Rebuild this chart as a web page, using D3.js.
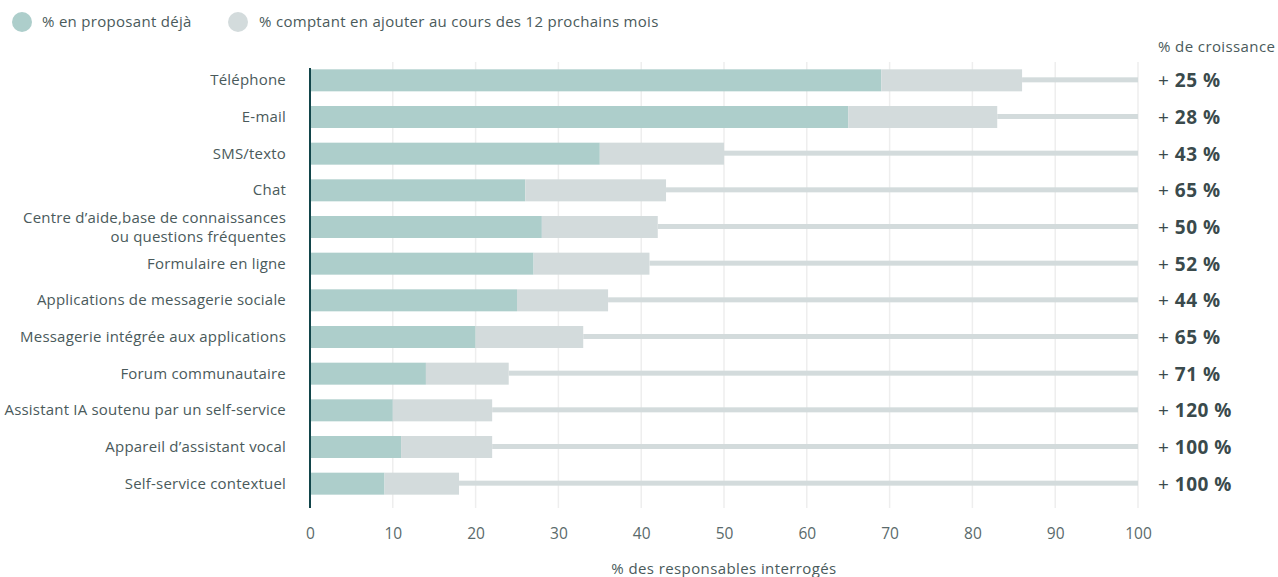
<!DOCTYPE html>
<html lang="fr">
<head>
<meta charset="utf-8">
<script src="https://cdn.jsdelivr.net/npm/d3@7"></script>
<style>
  html, body { margin: 0; padding: 0; background: #fff; }
  svg { display: block; font-family: "Open Sans", Lato, sans-serif; }
</style>
</head>
<body>
<svg id="chart" width="1278" height="577"></svg>
<script>
// Canaux de service proposés et prévus
const categories = [
  "Téléphone",
  "E-mail",
  "SMS/texto",
  "Chat",
  "Centre d’aide,base de connaissances|ou questions fréquentes",
  "Formulaire en ligne",
  "Applications de messagerie sociale",
  "Messagerie intégrée aux applications",
  "Forum communautaire",
  "Assistant IA soutenu par un self-service",
  "Appareil d’assistant vocal",
  "Self-service contextuel"
];
// % en proposant déjà
const proposant = [69, 65, 35, 26, 28, 27, 25, 20, 14, 10, 11, 9];
// % comptant en ajouter au cours des 12 prochains mois
const ajout = [17, 18, 15, 17, 14, 14, 11, 13, 10, 12, 11, 9];
// % de croissance
const croissance = ["25", "28", "43", "65", "50", "52", "44", "65", "71", "120", "100", "100"];
const xTicks = [0, 10, 20, 30, 40, 50, 60, 70, 80, 90, 100];

const colTeal = "#adcecb", colGrey = "#d3dbdc";
const txt = "#4a5a5b";
const svg = d3.select("#chart");
const margin = { left: 310, right: 140 };
const W = 1278;

const x = d3.scaleLinear().domain([0, 100]).range([margin.left, W - margin.right]);
const y = d3.scaleBand().domain(d3.range(categories.length))
  .range([62, 502]).paddingInner(0.4).paddingOuter(0.2);

// grid
svg.append("g").selectAll("line").data(xTicks.slice(1)).join("line")
  .attr("x1", d => x(d)).attr("x2", d => x(d))
  .attr("y1", 62).attr("y2", 508)
  .attr("stroke", "#eeeeee").attr("stroke-width", 1.5);

// tracks
svg.append("g").selectAll("rect").data(categories).join("rect")
  .attr("x", (d, i) => x(proposant[i] + ajout[i]))
  .attr("width", (d, i) => x(100) - x(proposant[i] + ajout[i]))
  .attr("y", (d, i) => y(i) + y.bandwidth() / 2 - 3)
  .attr("height", 5)
  .attr("fill", colGrey);

// bars
const stack = d3.stack().keys(["p", "a"])(categories.map((c, i) => ({ p: proposant[i], a: ajout[i], i })));
const colors = [colTeal, colGrey];
svg.append("g").selectAll("g").data(stack).join("g")
  .attr("fill", (d, k) => colors[k])
  .selectAll("rect").data(d => d).join("rect")
  .attr("x", d => x(d[0]))
  .attr("width", d => x(d[1]) - x(d[0]))
  .attr("y", d => y(d.data.i))
  .attr("height", y.bandwidth());

// baseline
svg.append("line")
  .attr("x1", x(0)).attr("x2", x(0))
  .attr("y1", 68).attr("y2", 508)
  .attr("stroke", "#12454a").attr("stroke-width", 2);

// category labels
const lab = svg.append("g").attr("fill", txt).attr("font-size", 15)
  .attr("letter-spacing", 0.2).attr("text-anchor", "end");
categories.forEach((c, i) => {
  const lines = c.split("|");
  const cy = y(i) + y.bandwidth() / 2;
  const t = lab.append("text").attr("x", 286);
  lines.forEach((l, k) => {
    t.append("tspan").attr("x", 286)
      .attr("y", cy + 5 + (k - (lines.length - 1) / 2) * 19)
      .text(l);
  });
});

// growth labels
svg.append("text").attr("x", 1158).attr("y", 52).attr("font-size", 15)
  .attr("letter-spacing", 0.4).attr("fill", txt).text("% de croissance");
const gl = svg.append("g").attr("fill", "#3a4a4c").attr("font-size", 19).attr("letter-spacing", 0.5);
croissance.forEach((g, i) => {
  const t = gl.append("text").attr("x", 1158).attr("y", y(i) + y.bandwidth() / 2 + 7);
  t.append("tspan").text("+ ");
  t.append("tspan").attr("font-weight", 700).text(g + " %");
});

// x axis
const xAxis = d3.axisBottom(x).tickValues(xTicks).tickSize(0).tickPadding(0);
const ax = svg.append("g").attr("transform", "translate(0,528)").call(xAxis);
ax.select(".domain").remove();
ax.selectAll("text").attr("font-size", 15.5).attr("fill", "#5a6a6b")
  .attr("font-family", "'Open Sans', Lato, sans-serif");
svg.append("text").attr("x", (x(0) + x(100)) / 2).attr("y", 574).attr("text-anchor", "middle")
  .attr("font-size", 15).attr("letter-spacing", 0.4).attr("fill", txt).text("% des responsables interrogés");

// legend
const legend = [
  { label: "% en proposant déjà", color: colTeal, cx: 22, tx: 42 },
  { label: "% comptant en ajouter au cours des 12 prochains mois", color: colGrey, cx: 238, tx: 259 }
];
legend.forEach(l => {
  svg.append("circle").attr("cx", l.cx).attr("cy", 22).attr("r", 10).attr("fill", l.color);
  svg.append("text").attr("x", l.tx).attr("y", 27).attr("font-size", 15)
    .attr("letter-spacing", 0.3).attr("fill", txt).text(l.label);
});
</script>
</body>
</html>
